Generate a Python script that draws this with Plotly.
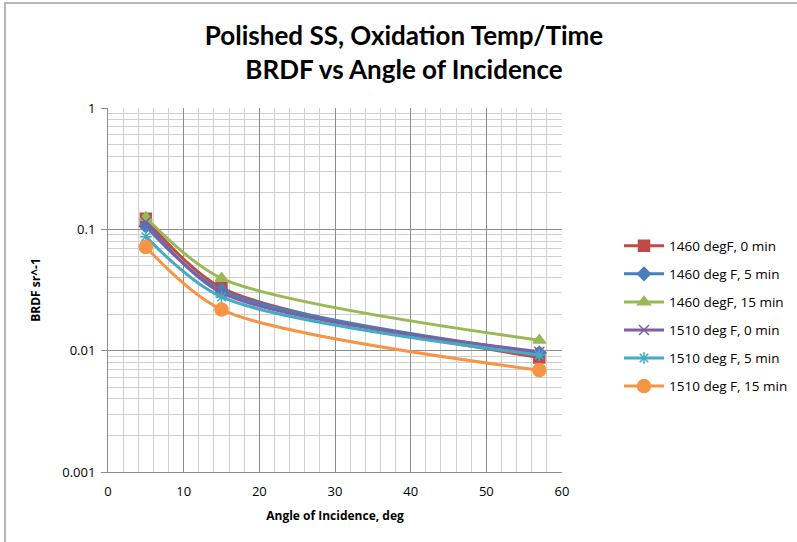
import plotly.graph_objects as go

angles = [5, 15, 57]
series_names = ["1460 degF, 0 min", "1460 deg F, 5 min", "1460 degF, 15 min",
                "1510 deg F, 0 min", "1510 deg F, 5 min", "1510 deg F, 15 min"]
s1460_0 = [0.122, 0.033, 0.0088]
s1460_5 = [0.106, 0.0314, 0.0096]
s1460_15 = [0.125, 0.0395, 0.0122]
s1510_0 = [0.115, 0.030, 0.0098]
s1510_5 = [0.087, 0.0277, 0.0092]
s1510_15 = [0.0715, 0.0218, 0.0069]
y_tick_vals = [0.001, 0.01, 0.1, 1]
y_tick_text = ["0.001", "0.01", "0.1", "1"]
x_tick_vals = [0, 10, 20, 30, 40, 50, 60]

values = [s1460_0, s1460_5, s1460_15, s1510_0, s1510_5, s1510_15]
colors = ["#BE4B48", "#4A7EBB", "#98B954", "#7D60A0", "#46AAC5", "#F69546"]
symbols = ["square", "diamond", "triangle-up", "x-thin-open", "asterisk-open", "circle"]
sizes = [11, 10, 11, 10, 10, 13]

fig = go.Figure()
for i, (name, vals, c, sym, sz) in enumerate(zip(series_names, values, colors, symbols, sizes)):
    fig.add_trace(go.Scatter(
        x=angles, y=vals, name=name, mode="lines+markers", legendgroup=f"g{i}",
        line=dict(color=c, width=3, shape="spline", smoothing=0.8),
        marker=dict(symbol=sym, size=sz, color=c, line=dict(color=c, width=1.5)),
    ))

grid_major = "#8C8C8C"
grid_minor = "#D0D0D0"
font_family = "Open Sans, Liberation Sans, sans-serif"

fig.update_layout(
    width=797, height=542,
    margin=dict(l=108, r=235, t=108, b=70, autoexpand=False),
    paper_bgcolor="white", plot_bgcolor="white",
    font=dict(family=font_family, color="#000000", size=13),
    title=dict(
        text="<b>Polished SS, Oxidation Temp/Time<br>BRDF vs Angle of Incidence</b>",
        x=404 / 797, xanchor="center", xref="container", y=1 - 45 / 542, yanchor="top",
        font=dict(family="Lato, Open Sans, sans-serif", size=26, color="#000000"),
    ),
    showlegend=True,
    legend=dict(
        x=(619 - 108) / 454, xanchor="left", y=(472 - 316) / 364, yanchor="middle",
        font=dict(family=font_family, size=13.5, color="#000000"),
        tracegroupgap=7.5, itemwidth=40, bgcolor="rgba(0,0,0,0)",
    ),
    xaxis=dict(
        range=[0, 60], tickvals=x_tick_vals,
        showgrid=True, gridcolor=grid_major, gridwidth=1,
        minor=dict(dtick=2, showgrid=True, gridcolor=grid_minor, gridwidth=1),
        showline=True, linecolor=grid_major, linewidth=1, mirror=False,
        ticks="outside", ticklen=7, tickcolor="rgba(0,0,0,0)", zeroline=False,
        tickfont=dict(size=13),
        title=dict(text="<b>Angle of Incidence, deg</b>", font=dict(size=12), standoff=13),
    ),
    yaxis=dict(
        type="log", range=[-3, 0], tickvals=y_tick_vals, ticktext=y_tick_text,
        showgrid=True, gridcolor=grid_major, gridwidth=1,
        minor=dict(dtick="D1", showgrid=True, gridcolor=grid_minor, gridwidth=1),
        showline=True, linecolor=grid_major, linewidth=1,
        ticks="outside", ticklen=6, tickcolor=grid_major, ticklabelstandoff=3,
        zeroline=False, tickfont=dict(size=13),
        title=dict(text="<b>BRDF sr^-1</b>", font=dict(size=12), standoff=19),
    ),
    shapes=[dict(type="rect", xref="paper", yref="paper",
                 x0=(5 - 108) / 454, x1=(805 - 108) / 454,
                 y0=(472 - 550) / 364, y1=(472 - 3) / 364,
                 line=dict(color="#A0A0A0", width=1.5), layer="below")],
)

fig.write_html("out.html", config={"displayModeBar": False},
               post_script="document.body.style.margin='0';document.body.style.padding='0';")
